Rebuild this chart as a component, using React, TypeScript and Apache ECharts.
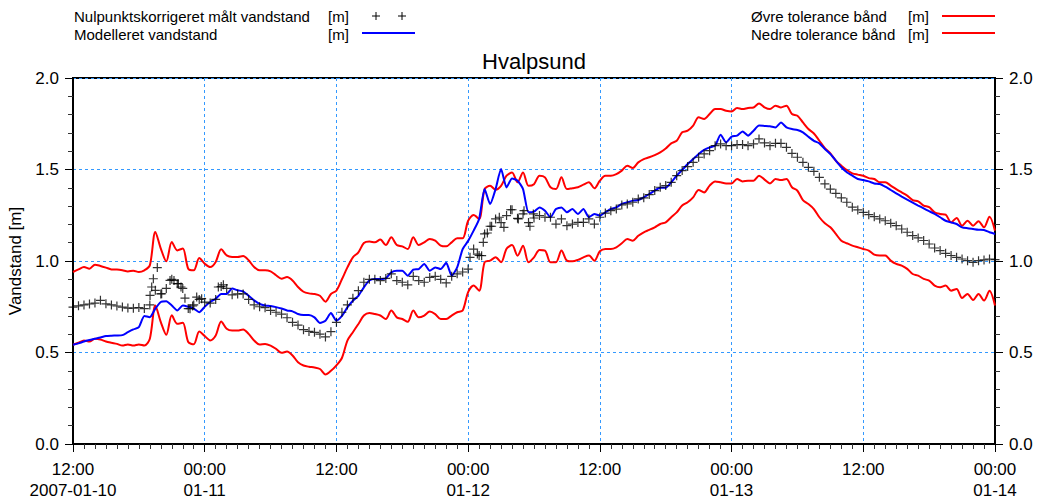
import React, { useEffect, useRef } from "react";
import * as echarts from "echarts";

// Sampling step of the series below (hours from 2007-01-10 12:00)
const stepHours = 0.5;

const xTickLabels = [
  "12:00\n2007-01-10",
  "00:00\n01-11",
  "12:00",
  "00:00\n01-12",
  "12:00",
  "00:00\n01-13",
  "12:00",
  "00:00\n01-14",
];

const titleText = "Hvalpsund";
const yAxisName = "Vandstand [m]";
const legendMeasured = "Nulpunktskorrigeret målt vandstand";
const legendModel = "Modelleret vandstand";
const legendUpper = "Øvre tolerance bånd";
const legendLower = "Nedre tolerance bånd";
const unitText = "[m]";

// Measured (zero-point corrected) water level, every 30 min
const measured = [
  0.748, 0.755, 0.76, 0.765, 0.77, 0.785, 0.766, 0.76, 0.754, 0.748, 0.743, 0.742,
  0.746, 0.74, 0.76, 0.84, 0.82, 0.85, 0.9, 0.876, 0.85, 0.74, 0.76, 0.79,
  0.775, 0.77, 0.79, 0.86, 0.85, 0.815, 0.82, 0.82, 0.79, 0.76, 0.75, 0.745,
  0.73, 0.72, 0.71, 0.69, 0.665, 0.65, 0.625, 0.615, 0.61, 0.6, 0.585, 0.614,
  0.665, 0.72, 0.76, 0.796, 0.838, 0.884, 0.9, 0.9, 0.893, 0.905, 0.93, 0.893,
  0.884, 0.87, 0.916, 0.893, 0.884, 0.91, 0.916, 0.9, 0.88, 0.916, 0.93, 0.94,
  0.956, 1.065, 1.03, 1.148, 1.19, 1.23, 1.21, 1.248, 1.28, 1.233, 1.257, 1.21,
  1.235, 1.248, 1.239, 1.239, 1.202, 1.23, 1.193, 1.202, 1.211, 1.211, 1.23, 1.202,
  1.239, 1.262, 1.275, 1.284, 1.306, 1.312, 1.321, 1.339, 1.345, 1.363, 1.385, 1.403,
  1.412, 1.43, 1.466, 1.494, 1.516, 1.539, 1.567, 1.585, 1.603, 1.63, 1.64, 1.63,
  1.63, 1.636, 1.636, 1.63, 1.64, 1.667, 1.645, 1.63, 1.643, 1.643, 1.621, 1.588,
  1.567, 1.539, 1.512, 1.49, 1.457, 1.421, 1.393, 1.37, 1.345, 1.321, 1.294, 1.279,
  1.266, 1.253, 1.242, 1.23, 1.22, 1.206, 1.193, 1.175, 1.157, 1.139, 1.126, 1.112,
  1.093, 1.071, 1.057, 1.042, 1.03, 1.02, 1.011, 1.002, 0.993, 1.002, 1.006, 1.011,
  1.007,
];

// Extra scattered measurements [hour, value]
const measuredExtra = [
  [7.02, 0.812], [7.17, 0.858], [7.32, 0.903], [7.68, 0.964], [8.08, 0.821],
  [8.84, 0.894], [9.2, 0.894], [9.6, 0.876], [9.84, 0.858], [10.2, 0.797],
  [10.66, 0.739], [10.9, 0.754], [11.27, 0.803], [11.72, 0.794], [13.24, 0.858],
  [13.7, 0.87], [36.17, 1.02], [36.84, 1.038], [37.23, 1.029], [37.38, 1.102],
  [37.75, 1.153], [38.14, 1.19], [38.84, 1.239], [39.26, 1.184], [39.87, 1.28],
  [40.57, 1.23], [41.09, 1.275], [41.63, 1.19], [41.94, 1.257],
];

// Modelled water level, every 30 min
const modelled = [
  0.542, 0.55, 0.56, 0.568, 0.575, 0.582, 0.59, 0.592, 0.593, 0.595, 0.611, 0.626,
  0.639, 0.7, 0.693, 0.74, 0.776, 0.78, 0.757, 0.73, 0.757, 0.75, 0.74, 0.72,
  0.75, 0.776, 0.794, 0.82, 0.82, 0.85, 0.84, 0.834, 0.81, 0.785, 0.766, 0.757,
  0.754, 0.748, 0.74, 0.73, 0.725, 0.71, 0.705, 0.705, 0.692, 0.661, 0.674, 0.716,
  0.674, 0.7, 0.747, 0.783, 0.81, 0.856, 0.893, 0.902, 0.902, 0.905, 0.938, 0.947,
  0.947, 0.92, 0.953, 0.956, 0.984, 0.947, 0.965, 0.956, 0.99, 0.92, 0.965, 1.065,
  1.11, 1.166, 1.23, 1.393, 1.311, 1.393, 1.503, 1.402, 1.451, 1.439, 1.393, 1.266,
  1.27, 1.293, 1.275, 1.239, 1.284, 1.293, 1.266, 1.284, 1.257, 1.284, 1.239, 1.257,
  1.248, 1.266, 1.284, 1.293, 1.312, 1.321, 1.33, 1.333, 1.348, 1.366, 1.385, 1.4,
  1.4, 1.43, 1.466, 1.497, 1.53, 1.557, 1.585, 1.607, 1.621, 1.63, 1.69, 1.648,
  1.68, 1.685, 1.708, 1.685, 1.712, 1.74, 1.738, 1.736, 1.73, 1.757, 1.73, 1.721,
  1.716, 1.703, 1.679, 1.657, 1.643, 1.612, 1.585, 1.548, 1.512, 1.485, 1.466, 1.448,
  1.443, 1.435, 1.424, 1.421, 1.406, 1.388, 1.37, 1.352, 1.335, 1.319, 1.303, 1.288,
  1.272, 1.257, 1.239, 1.22, 1.211, 1.202, 1.184, 1.179, 1.175, 1.171, 1.17, 1.157,
  1.148,
];

// Upper tolerance band, every 30 min
const upperBand = [
  0.94, 0.954, 0.967, 0.958, 0.98, 0.973, 0.964, 0.954, 0.953, 0.949, 0.943, 0.947,
  0.94, 0.949, 0.976, 1.159, 1.068, 0.998, 1.104, 1.058, 1.068, 0.958, 0.949, 1.016,
  0.985, 0.967, 0.995, 1.064, 1.031, 1.022, 1.022, 1.027, 1.004, 0.967, 0.949, 0.949,
  0.943, 0.922, 0.903, 0.912, 0.894, 0.858, 0.832, 0.823, 0.82, 0.81, 0.778, 0.82,
  0.838, 0.9, 0.965, 1.02, 1.047, 1.098, 1.106, 1.102, 1.117, 1.087, 1.13, 1.087,
  1.08, 1.065, 1.13, 1.087, 1.102, 1.12, 1.111, 1.084, 1.08, 1.102, 1.124, 1.124,
  1.22, 1.251, 1.23, 1.393, 1.411, 1.39, 1.411, 1.466, 1.484, 1.43, 1.484, 1.411,
  1.42, 1.466, 1.457, 1.403, 1.393, 1.457, 1.393, 1.398, 1.403, 1.417, 1.43, 1.397,
  1.439, 1.466, 1.466, 1.475, 1.494, 1.521, 1.508, 1.539, 1.557, 1.567, 1.579, 1.594,
  1.615, 1.643, 1.657, 1.703, 1.712, 1.74, 1.785, 1.776, 1.803, 1.83, 1.83, 1.821,
  1.817, 1.836, 1.83, 1.836, 1.839, 1.861, 1.84, 1.83, 1.849, 1.839, 1.849, 1.803,
  1.794, 1.757, 1.721, 1.697, 1.657, 1.617, 1.588, 1.548, 1.521, 1.497, 1.479, 1.472,
  1.466, 1.453, 1.448, 1.43, 1.43, 1.412, 1.393, 1.375, 1.357, 1.333, 1.326, 1.303,
  1.294, 1.266, 1.257, 1.253, 1.211, 1.235, 1.193, 1.22, 1.193, 1.217, 1.184, 1.242,
  1.166,
];

// Lower tolerance band, every 30 min
const lowerBand = [
  0.542, 0.553, 0.566, 0.56, 0.575, 0.571, 0.56, 0.553, 0.547, 0.538, 0.544, 0.538,
  0.544, 0.538, 0.575, 0.757, 0.666, 0.597, 0.703, 0.657, 0.662, 0.557, 0.545, 0.615,
  0.59, 0.566, 0.593, 0.67, 0.63, 0.62, 0.62, 0.626, 0.602, 0.566, 0.544, 0.547,
  0.538, 0.52, 0.498, 0.505, 0.484, 0.447, 0.429, 0.422, 0.418, 0.41, 0.38, 0.4,
  0.43, 0.47, 0.565, 0.611, 0.656, 0.702, 0.716, 0.71, 0.702, 0.683, 0.729, 0.692,
  0.683, 0.668, 0.729, 0.692, 0.702, 0.724, 0.71, 0.683, 0.683, 0.702, 0.72, 0.729,
  0.83, 0.866, 0.838, 0.993, 1.002, 1.02, 0.993, 1.067, 1.087, 1.029, 1.084, 0.993,
  1.02, 1.06, 1.057, 0.993, 0.993, 1.057, 1.002, 0.998, 1.006, 1.02, 1.03, 1.002,
  1.053, 1.066, 1.066, 1.075, 1.097, 1.12, 1.111, 1.138, 1.157, 1.17, 1.184, 1.202,
  1.211, 1.239, 1.266, 1.303, 1.321, 1.348, 1.388, 1.375, 1.412, 1.435, 1.43, 1.424,
  1.424, 1.448, 1.435, 1.439, 1.439, 1.466, 1.445, 1.424, 1.448, 1.442, 1.448, 1.403,
  1.384, 1.333, 1.311, 1.284, 1.239, 1.206, 1.184, 1.148, 1.111, 1.097, 1.084, 1.075,
  1.066, 1.057, 1.035, 1.03, 1.03, 1.002, 0.984, 0.975, 0.957, 0.929, 0.92, 0.902,
  0.893, 0.866, 0.857, 0.866, 0.838, 0.847, 0.798, 0.82, 0.787, 0.82, 0.784, 0.838,
  0.757,
];

const FONT = '"Liberation Sans", Arial, sans-serif';
const GRID_BLUE = "#3399ff";

function toPairs(arr: number[]) {
  return arr.map((v, i) => [i * stepHours, v]);
}

function legendText(text: string, x: number, y: number) {
  return {
    type: "text",
    x,
    y,
    style: {
      text,
      font: `15px ${FONT}`,
      fill: "#000",
      textAlign: "left",
      textVerticalAlign: "middle",
      align: "left",
      verticalAlign: "middle",
    },
  };
}

function legendLine(x1: number, x2: number, y: number, color: string) {
  return {
    type: "line",
    shape: { x1, y1: y, x2, y2: y },
    style: { stroke: color, lineWidth: 2 },
  };
}

function plusMark(cx: number, cy: number) {
  return {
    type: "group",
    children: [
      { type: "line", shape: { x1: cx - 4, y1: cy, x2: cx + 4, y2: cy }, style: { stroke: "#000", lineWidth: 1 } },
      { type: "line", shape: { x1: cx, y1: cy - 4, x2: cx, y2: cy + 4 }, style: { stroke: "#000", lineWidth: 1 } },
    ],
  };
}

export default function App() {
  const ref = useRef<HTMLDivElement>(null);

  useEffect(() => {
    document.body.style.margin = "0";
    if (!ref.current) return;
    const chart = echarts.init(ref.current, undefined, { renderer: "svg" });

    const yAxisCommon = {
      type: "value",
      min: 0,
      max: 2,
      interval: 0.5,
      axisLine: { show: true, lineStyle: { color: "#000", width: 2 } },
      axisTick: { show: true, inside: false, length: 8, lineStyle: { color: "#000", width: 1 } },
      minorTick: { show: true, splitNumber: 5, length: 5, lineStyle: { color: "#333", width: 1 } },
      axisLabel: {
        show: true,
        color: "#000",
        fontFamily: FONT,
        fontSize: 17,
        margin: 14,
        formatter: (v: number) => v.toFixed(1),
      },
    };

    const option: any = {
      animation: false,
      backgroundColor: "#fff",
      grid: {
        left: 73,
        right: 48,
        top: 78,
        bottom: 58,
        containLabel: false,
        outerBoundsMode: "none",
        show: true,
        borderColor: "#000",
        borderWidth: 2,
        backgroundColor: "transparent",
      },
      xAxis: {
        type: "value",
        min: 0,
        max: 84,
        interval: 12,
        axisLine: { show: true, lineStyle: { color: "#000", width: 2 } },
        axisTick: { show: true, inside: false, length: 8, lineStyle: { color: "#000", width: 1 } },
        minorTick: { show: true, splitNumber: 12, length: 5, lineStyle: { color: "#333", width: 1 } },
        splitLine: {
          show: true,
          lineStyle: { color: GRID_BLUE, type: [3, 3], width: 1 },
        },
        axisLabel: {
          show: true,
          showMinLabel: true,
          showMaxLabel: true,
          color: "#000",
          fontFamily: FONT,
          fontSize: 17,
          lineHeight: 21,
          margin: 15,
          formatter: (v: number) => xTickLabels[Math.round(v / 12)] ?? "",
        },
      },
      yAxis: [
        {
          ...yAxisCommon,
          position: "left",
          name: yAxisName,
          nameLocation: "middle",
          nameGap: 48,
          nameTextStyle: { color: "#000", fontFamily: FONT, fontSize: 17 },
          splitLine: {
            show: true,
            lineStyle: { color: GRID_BLUE, type: [3, 3], width: 1 },
          },
        },
        {
          ...yAxisCommon,
          position: "right",
          splitLine: { show: false },
        },
      ],
      graphic: [
        {
          type: "text",
          x: 534,
          y: 61,
          style: {
            text: titleText,
            font: `22px ${FONT}`,
            fill: "#000",
            textAlign: "center",
            textVerticalAlign: "middle",
            align: "center",
            verticalAlign: "middle",
          },
        },
        legendText(legendMeasured, 74, 16),
        legendText(unitText, 328, 16),
        plusMark(376, 16),
        plusMark(402, 16),
        legendText(legendModel, 74, 34),
        legendText(unitText, 328, 34),
        legendLine(362, 415, 33, "#0000ff"),
        legendText(legendUpper, 751, 16),
        legendText(unitText, 908, 16),
        legendLine(942, 995, 16, "#ff0000"),
        legendText(legendLower, 751, 34),
        legendText(unitText, 908, 34),
        legendLine(942, 995, 33, "#ff0000"),
      ],
      series: [
        {
          name: legendUpper,
          type: "line",
          data: toPairs(upperBand),
          showSymbol: false,
          smooth: 0.3,
          lineStyle: { color: "#ff0000", width: 2 },
          z: 2,
        },
        {
          name: legendLower,
          type: "line",
          data: toPairs(lowerBand),
          showSymbol: false,
          smooth: 0.3,
          lineStyle: { color: "#ff0000", width: 2 },
          z: 2,
        },
        {
          name: legendModel,
          type: "line",
          data: toPairs(modelled),
          showSymbol: false,
          smooth: 0.2,
          lineStyle: { color: "#0000ff", width: 2 },
          z: 3,
        },
        {
          name: legendMeasured,
          type: "scatter",
          data: [...toPairs(measured), ...measuredExtra],
          symbol: "path://M0,5L10,5M5,0L5,10",
          symbolSize: 9,
          itemStyle: { color: "rgba(0,0,0,0)", borderColor: "#000", borderWidth: 1.2 },
          z: 4,
        },
      ],
    };

    chart.setOption(option);
    return () => chart.dispose();
  }, []);

  return <div ref={ref} style={{ width: 1043, height: 502 }} />;
}
